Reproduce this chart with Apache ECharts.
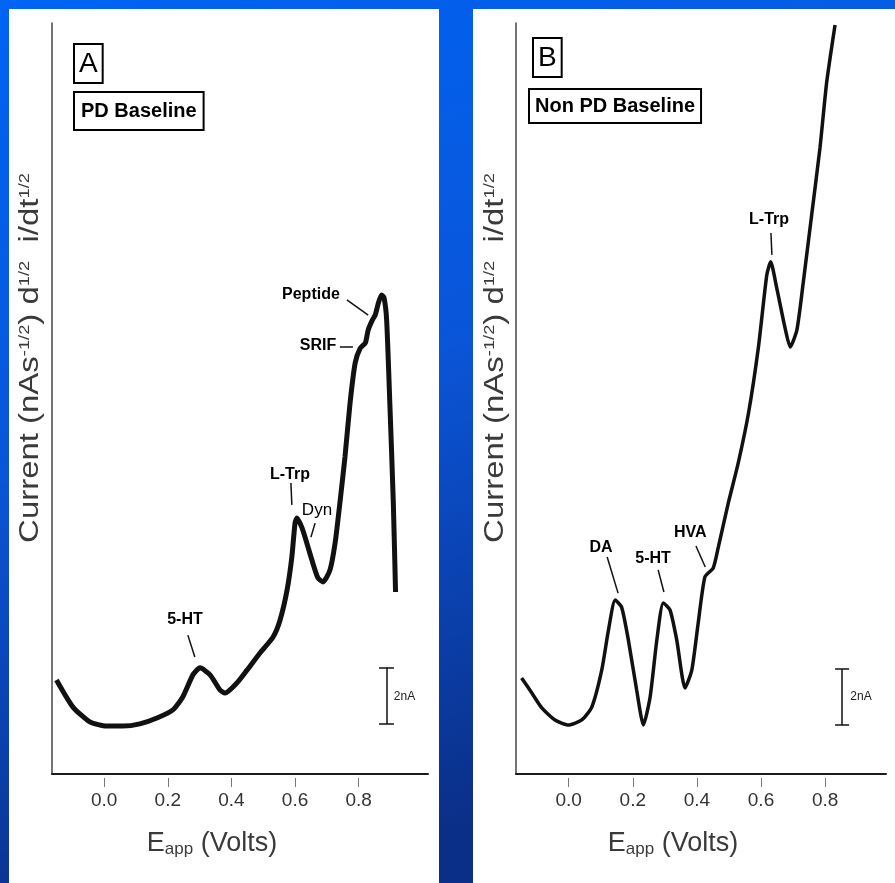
<!DOCTYPE html>
<html><head><meta charset="utf-8">
<script src="https://cdn.jsdelivr.net/npm/echarts@6/dist/echarts.min.js"></script>
<style>html,body{margin:0;padding:0;background:#0a5ae8;} #c{width:895px;height:883px;}</style>
</head><body><div id="c"></div>
<script>
// ---- data (E_app in volts, current in nA) ----
const tickValues = [0.0, 0.2, 0.4, 0.6, 0.8];

const voltsA = [-0.150,-0.098,-0.045,0.008,0.059,0.112,0.166,0.216,0.247,0.279,0.301,0.333,0.364,0.380,0.417,0.449,0.490,0.531,0.553,0.575,0.590,0.600,0.606,0.622,0.637,0.653,0.672,0.688,0.710,0.726,0.741,0.757,0.773,0.789,0.805,0.821,0.830,0.843,0.852,0.862,0.872,0.880,0.888,0.898,0.909,0.916];
const currentA = [3.36,2.39,1.86,1.71,1.71,1.79,2.00,2.29,2.75,3.54,3.79,3.54,3.00,2.89,3.25,3.71,4.32,4.89,5.50,6.57,7.75,8.96,9.14,8.79,8.25,7.64,7.00,6.86,7.29,8.25,9.68,11.32,13.25,14.68,15.21,15.39,15.86,16.21,16.39,16.82,17.11,17.00,16.21,13.25,9.68,6.50];

const voltsB = [-0.147,-0.115,-0.084,-0.043,-0.001,0.041,0.072,0.103,0.124,0.145,0.165,0.186,0.212,0.233,0.254,0.275,0.295,0.316,0.337,0.363,0.384,0.404,0.425,0.451,0.467,0.498,0.529,0.561,0.592,0.618,0.630,0.649,0.675,0.691,0.712,0.732,0.758,0.784,0.805,0.831];
const currentB = [3.43,2.89,2.36,1.93,1.75,1.93,2.39,3.71,5.14,6.21,5.96,4.79,3.00,1.75,2.75,4.79,6.11,5.86,4.79,3.07,3.71,5.39,7.04,7.36,8.11,9.68,11.11,12.89,15.25,17.82,18.29,17.36,15.93,15.25,15.86,17.57,19.96,22.36,24.71,26.75];

// ---- annotations (data coordinates) ----
const labelsA = [
  {text:'5-HT',   at:[0.254,5.50],  from:[0.263,4.96], to:[0.285,4.18], bold:true},
  {text:'L-Trp',  at:[0.584,10.71], from:[0.587,10.39], to:[0.590,9.61], bold:true},
  {text:'Dyn',    at:[0.669,9.43],  from:[0.663,8.96], to:[0.650,8.46], bold:false},
  {text:'SRIF',   at:[0.672,15.29], from:[0.741,15.25], to:[0.782,15.25], bold:true},
  {text:'Peptide',at:[0.650,17.11], from:[0.763,16.93], to:[0.830,16.39], bold:true}
];
const labelsB = [
  {text:'DA',    at:[0.101,8.07],  from:[0.120,7.75],  to:[0.154,6.46], bold:true},
  {text:'5-HT',  at:[0.263,7.71],  from:[0.279,7.29],  to:[0.297,6.50], bold:true},
  {text:'HVA',   at:[0.379,8.61],  from:[0.397,8.14],  to:[0.426,7.39], bold:true},
  {text:'L-Trp', at:[0.625,19.79], from:[0.631,19.32], to:[0.634,18.54], bold:true}
];
const scaleA = {x:0.888, y0:1.79, y1:3.80, cap:[0.864,0.911], label:[0.944,2.75]};
const scaleB = {x:0.853, y0:1.75, y1:3.75, cap:[0.831,0.875], label:[0.912,2.75]};

const xTitle = '{m|E}{s|app}{m| (Volts)}';
const yTitle = '{m|Current (nAs}{s|-1/2}{m|) d}{s|1/2}{m|  i/dt}{s|1/2}';

const FONT = '"Liberation Sans", Arial, sans-serif';
const chart = echarts.init(document.getElementById('c'), null, {renderer:'canvas'});

function zip(a,b){ return a.map((v,i)=>[v,b[i]]); }

function marks(labels, scale){
  const lines = labels.map(l => [{coord:l.from},{coord:l.to}]);
  lines.push([{coord:[scale.x,scale.y0]},{coord:[scale.x,scale.y1]}]);
  lines.push([{coord:[scale.cap[0],scale.y0]},{coord:[scale.cap[1],scale.y0]}]);
  lines.push([{coord:[scale.cap[0],scale.y1]},{coord:[scale.cap[1],scale.y1]}]);
  const pts = labels.map(l => ({
    coord:l.at, value:l.text,
    label:{show:true, position:'inside', formatter:l.text, color:'#000',
      fontFamily:FONT, fontSize: l.bold?16:17, fontWeight: l.bold?'bold':'normal'}
  }));
  pts.push({coord:scale.label, value:'2nA',
    label:{show:true, position:'inside', formatter:'2nA', color:'#222', fontFamily:FONT, fontSize:12}});
  return {
    markLine:{silent:true, symbol:['none','none'], animation:false,
      label:{show:false}, lineStyle:{color:'#111', width:1.5, type:'solid'}, data:lines},
    markPoint:{silent:true, symbol:'rect', symbolSize:1, animation:false,
      itemStyle:{color:'rgba(0,0,0,0)'}, data:pts}
  };
}

function xAxes(grid, min, max){
  return [
    {gridIndex:grid, type:'value', min:min, max:max, position:'bottom',
     axisLine:{show:true, onZero:false, lineStyle:{color:'#1c1c1c', width:2}},
     axisTick:{show:false}, axisLabel:{show:false}, splitLine:{show:false},
     name:xTitle, nameLocation:'middle', nameGap:55,
     nameTextStyle:{color:'#3a3a3a', fontFamily:FONT, fontSize:27, padding:[0,56,0,0],
       rich:{m:{fontSize:27, fontFamily:FONT, color:'#3a3a3a', verticalAlign:'middle'},
             s:{fontSize:17, fontFamily:FONT, color:'#3a3a3a', verticalAlign:'bottom', padding:[12,0,0,0]}}}},
    {gridIndex:grid, type:'value', min:min, max:max, position:'bottom', offset:4,
     axisLine:{show:false, onZero:false},
     axisTick:{show:true, length:9, lineStyle:{color:'#777', width:1}, customValues:tickValues},
     axisLabel:{show:true, customValues:tickValues, formatter:v=>v.toFixed(1), margin:13,
       fontSize:19, color:'#333', fontFamily:FONT},
     splitLine:{show:false}}
  ];
}

function yAxis(grid){
  return {gridIndex:grid, type:'value', min:0, max:26.82,
    axisLine:{show:true, onZero:false, lineStyle:{color:'#444', width:1.5}},
    axisTick:{show:false}, axisLabel:{show:false}, splitLine:{show:false}};
}

function yTitleText(cx, cy){
  return {type:'text', x:cx, y:cy, rotation:Math.PI/2, scaleX:1.22, z:20, silent:true,
    style:{text:yTitle, align:'center', verticalAlign:'middle', fill:'#3a3a3a',
      font:'27px '+FONT,
      rich:{m:{fontSize:27, fontFamily:FONT, fill:'#3a3a3a'},
            s:{fontSize:15, fontFamily:FONT, fill:'#3a3a3a', verticalAlign:'top'}}}};
}

function boxText(text, left, top, size, bold, pad){
  return {type:'text', left:left, top:top, z:20,
    style:{text:text, font:(bold?'bold ':'')+size+'px '+FONT, fill:'#000',
      backgroundColor:'#fff', borderColor:'#000', borderWidth:2, padding:pad}};
}

const option = {
  animation:false,
  backgroundColor:{type:'linear', x:0, y:0, x2:0.3, y2:1,
    colorStops:[{offset:0,color:'#0064f4'},{offset:0.5,color:'#0a55d8'},{offset:1,color:'#0a2f88'}]},
  graphic:[
    {type:'rect', shape:{x:9, y:9, width:430, height:874}, style:{fill:'#fff'}, z:-1, silent:true},
    {type:'rect', shape:{x:473, y:9, width:422, height:874}, style:{fill:'#fff'}, z:-1, silent:true},
    boxText('A', 73, 43, 28, false, [5,4,4,4]),
    boxText('PD Baseline', 73, 91, 20, true, [8,6,8,6]),
    boxText('B', 532, 37, 28, false, [5,4,4,4]),
    boxText('Non PD Baseline', 528, 88, 20, true, [6,5,6,5]),
    yTitleText(31, 358),
    yTitleText(496, 358)
  ],
  grid:[
    {left:52, top:23, width:376, height:751},
    {left:516, top:23, width:370, height:751}
  ],
  xAxis:[...xAxes(0,-0.164,1.018), ...xAxes(1,-0.1645,0.990)],
  yAxis:[yAxis(0), yAxis(1)],
  series:[
    Object.assign({type:'line', name:'PD Baseline', xAxisIndex:0, yAxisIndex:0,
      data:zip(voltsA,currentA), symbol:'none', smooth:0.2,
      lineStyle:{color:'#111', width:5}, clip:false}, marks(labelsA, scaleA)),
    Object.assign({type:'line', name:'Non PD Baseline', xAxisIndex:2, yAxisIndex:1,
      data:zip(voltsB,currentB), symbol:'none', smooth:0.2,
      lineStyle:{color:'#111', width:3.5}, clip:false}, marks(labelsB, scaleB))
  ]
};
chart.setOption(option);
</script>
</body></html>
